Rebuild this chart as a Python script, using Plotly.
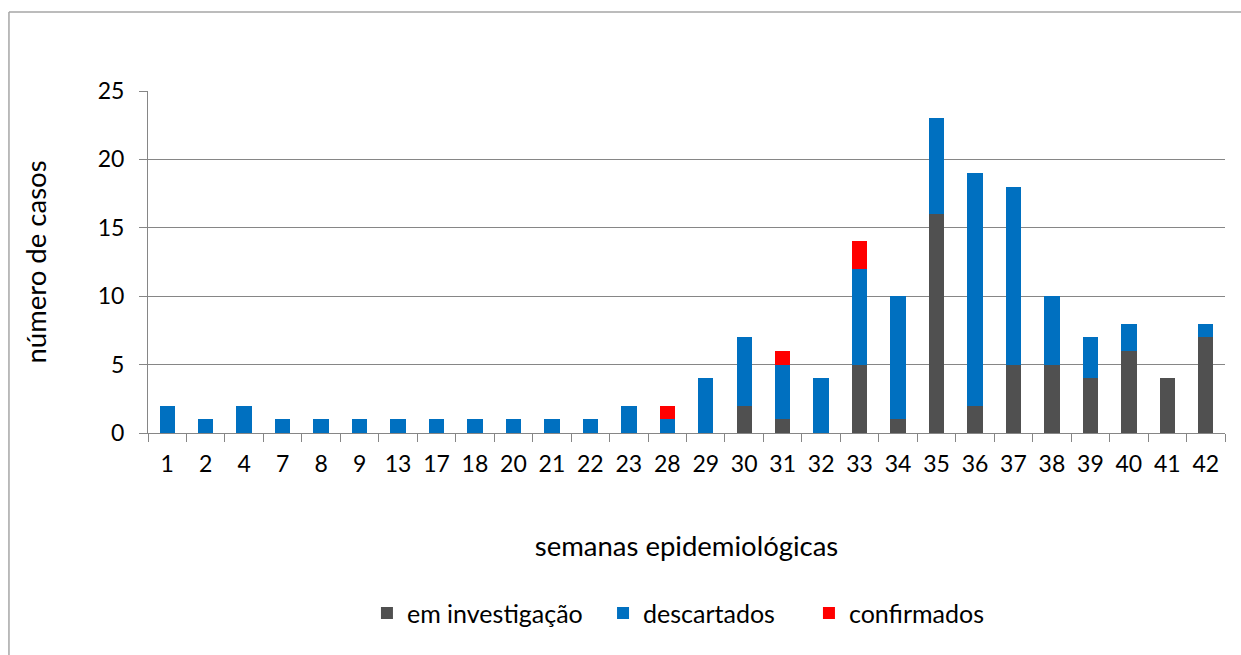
import plotly.graph_objects as go

semanas = ["1","2","4","7","8","9","13","17","18","20","21","22","23","28","29","30","31","32","33","34","35","36","37","38","39","40","41","42"]
em_investigacao = [0,0,0,0,0,0,0,0,0,0,0,0,0,0,0,2,1,0,5,1,16,2,5,5,4,6,4,7]
descartados =     [2,1,2,1,1,1,1,1,1,1,1,1,2,1,4,5,4,4,7,9,7,17,13,5,3,2,0,1]
confirmados =     [0,0,0,0,0,0,0,0,0,0,0,0,0,1,0,0,1,0,2,0,0,0,0,0,0,0,0,0]

FONT = "Lato, 'Open Sans', sans-serif"

fig = go.Figure()
fig.add_bar(x=semanas, y=em_investigacao, name="em investigação", marker_color="#505050",
            marker_line_width=0, legend="legend", showlegend=True)
fig.add_bar(x=semanas, y=descartados, name="descartados", marker_color="#0070C0",
            marker_line_width=0, legend="legend2", showlegend=True)
fig.add_bar(x=semanas, y=confirmados, name="confirmados", marker_color="#FF0000",
            marker_line_width=0, legend="legend3", showlegend=True)

border = "#A6A6A6"
leg_common = dict(orientation="h", xanchor="left", y=-0.527, yanchor="middle",
                  font=dict(size=25), itemwidth=30, bgcolor="rgba(0,0,0,0)")
fig.update_layout(
    showlegend=True,
    barmode="stack",
    bargap=0.6,
    width=1241, height=655,
    margin=dict(l=148, r=16, t=91, b=222),
    paper_bgcolor="white", plot_bgcolor="white",
    font=dict(family=FONT, size=23, color="black"),
    legend=dict(x=0.2033, **leg_common),
    legend2=dict(x=0.4225, **leg_common),
    legend3=dict(x=0.6137, **leg_common),
    shapes=[
        dict(type="line", xref="paper", yref="paper", x0=-0.1291, x1=1.02, y0=1.231, y1=1.231,
             line=dict(color=border, width=1.5), layer="below"),
        dict(type="line", xref="paper", yref="paper", x0=-0.1291, x1=-0.1291, y0=1.231, y1=-0.7,
             line=dict(color=border, width=1.5), layer="below"),
    ],
)
fig.update_xaxes(
    type="category", showline=True, linecolor="#868686", linewidth=1,
    ticks="outside", tickson="boundaries", ticklen=8, tickcolor="#868686",
    ticklabelstandoff=10,
    showgrid=False,
    title=dict(text="semanas epidemiológicas", standoff=61, font=dict(size=27.5)),
)
fig.update_yaxes(
    range=[0, 25], dtick=5, showline=True, linecolor="#868686", linewidth=1,
    ticks="outside", ticklen=8, tickcolor="#868686",
    ticklabelstandoff=10,
    showgrid=True, gridcolor="#868686", gridwidth=1, zeroline=False,
    title=dict(text="número de casos", standoff=43, font=dict(size=27.5)),
)

fig.write_html("out.html", config={"displayModeBar": False},
               post_script="document.body.style.margin='0';")
